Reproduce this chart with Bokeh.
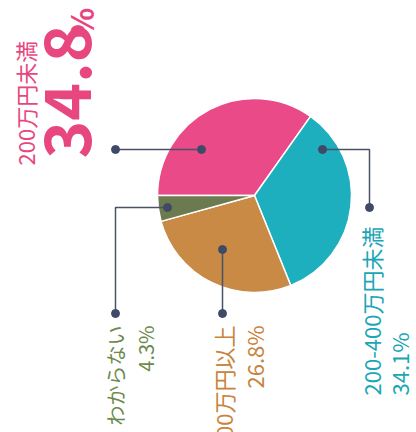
import math
from bokeh.plotting import figure
from bokeh.models import Range1d, ColumnDataSource
from bokeh.core.properties import value
from bokeh.embed import file_html
from bokeh.resources import INLINE

# ---- data ----
categories = ["200万円未満", "200-400万円未満", "400万円以上", "わからない"]
values = [34.8, 34.1, 26.8, 4.3]
pct_labels = ["34.8", "34.1%", "26.8%", "4.3%"]
slice_colors = ["#EB4A89", "#1DAFBE", "#C98A45", "#6C7A50"]
text_colors = ["#E8467F", "#1AA6B6", "#C8843C", "#6C8A4A"]

W, H = 416, 432
p = figure(width=W, height=H, x_range=Range1d(0, W), y_range=Range1d(0, H),
           output_backend="svg", toolbar_location=None,
           x_axis_location=None, y_axis_location=None, min_border=0)
p.outline_line_color = None
p.grid.visible = False
p.background_fill_color = "white"
p.border_fill_color = "white"

# ---- pie (clockwise from 180 deg) ----
cx, cy, r = 254, 237, 97
total = sum(values)
starts, ends = [], []
a = math.pi
for v in values:
    starts.append(a)
    a -= v / total * 2 * math.pi
    ends.append(a)
src = ColumnDataSource(dict(start=starts, end=ends, color=slice_colors, cat=categories))
p.wedge(x=cx, y=cy, radius=r, start_angle="start", end_angle="end", direction="clock",
        fill_color="color", line_color="white", line_width=1.5, source=src)

# ---- leader lines ----
line_c = "#4A5268"
dot_c = "#3F4A66"
leaders = [
    ([201, 115], [283, 283]),
    ([322, 369, 369], [283, 283, 225]),
    ([222, 222], [183, 119]),
    ([167, 115, 115], [225, 225, 119]),
]
for xs, ys in leaders:
    p.line(xs, ys, line_color=line_c, line_width=1.5)
    p.scatter([xs[0], xs[-1]], [ys[0], ys[-1]], size=8, color=dot_c)

jp = value("Noto Sans CJK JP")
rot = math.pi / 2

def label(x, y, txt, color, size, align, bold=False):
    p.text(x=[x], y=[y], text=[txt], angle=rot, text_align=align,
           text_baseline="middle", text_font=jp, text_font_size=size,
           text_font_style="bold" if bold else "normal", text_color=color)

# pink
label(24, 267, categories[0], text_colors[0], "22px", "left")
label(67, 274, pct_labels[0], text_colors[0], "64px", "left", bold=True)
label(80, 395, "%", text_colors[0], "31px", "left", bold=True)

# teal
label(370, 37, categories[1], text_colors[1], "22px", "left")
label(398, 37, pct_labels[1], text_colors[1], "22px", "left")

# brown
label(222, 107, categories[2], text_colors[2], "22px", "right")
label(253, 107, pct_labels[2], text_colors[2], "22px", "right")

# green
label(115, 107, categories[3], text_colors[3], "20px", "right")
label(145, 107, pct_labels[3], text_colors[3], "20px", "right")

open("out.html", "w").write(file_html(p, INLINE))
